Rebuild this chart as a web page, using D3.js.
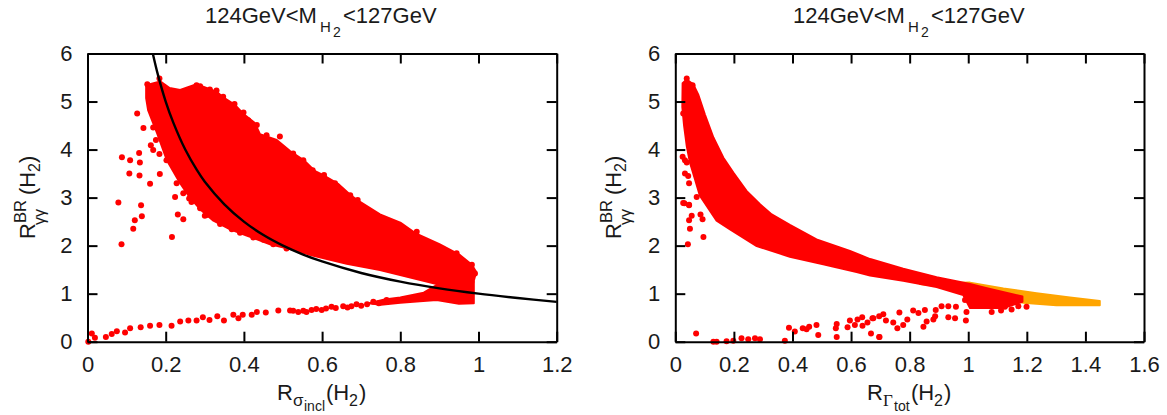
<!DOCTYPE html>
<html>
<head>
<meta charset="utf-8">
<script src="https://cdn.jsdelivr.net/npm/d3@7"></script>
<style>
body { margin: 0; background: #fff; }
text { font-family: "Liberation Sans", sans-serif; fill: #1a1a1a; }
.axis path, .axis line { stroke: #000; stroke-width: 2; }
.axis text { font-size: 22px; }
</style>
</head>
<body>
<script>
const yTicks = [0, 1, 2, 3, 4, 5, 6];
const xTicksLeft = [0, 0.2, 0.4, 0.6, 0.8, 1, 1.2];
const xTicksRight = [0, 0.2, 0.4, 0.6, 0.8, 1, 1.2, 1.4, 1.6];

// left panel, dense region outline
const leftBlob = [[0.15,5.34],[0.186,5.42],[0.21,5.28],[0.237,5.24],[0.279,5.36],[0.331,5.2],[0.35,5.07],[0.377,4.93],[0.399,4.74],[0.428,4.55],[0.441,4.32],[0.484,4.2],[0.518,3.97],[0.556,3.76],[0.582,3.55],[0.607,3.45],[0.642,3.28],[0.676,3.03],[0.693,2.93],[0.748,2.65],[0.8,2.48],[0.838,2.26],[0.9,2.03],[0.953,1.8],[0.983,1.6],[0.994,1.45],[0.985,1.18],[0.893,1.2],[0.748,1.49],[0.663,1.62],[0.578,1.79],[0.518,1.93],[0.467,2.03],[0.407,2.21],[0.365,2.34],[0.322,2.52],[0.288,2.76],[0.262,3.0],[0.237,3.3],[0.203,3.78],[0.178,4.34],[0.155,4.82],[0.15,5.07]];
const leftTail = [[0.72,0.8],[0.76,0.88],[0.8,0.92],[0.86,1.02],[0.893,1.18],[0.988,1.25],[0.988,0.8],[0.95,0.79],[0.893,0.87],[0.85,0.84],[0.8,0.81],[0.75,0.77]];
const leftDots = [[0.002,0],[0.011,0.17],[0.019,0.08],[0.047,0.1],[0.062,0.16],[0.075,0.22],[0.096,0.19],[0.109,0.28],[0.136,0.3],[0.16,0.33],[0.184,0.35],[0.215,0.33],[0.237,0.42],[0.258,0.44],[0.279,0.44],[0.295,0.51],[0.312,0.45],[0.332,0.53],[0.349,0.44],[0.373,0.56],[0.386,0.49],[0.397,0.56],[0.42,0.56],[0.433,0.62],[0.456,0.61],[0.488,0.65],[0.518,0.65],[0.539,0.62],[0.526,0.645],[0.552,0.645],[0.573,0.66],[0.599,0.66],[0.624,0.73],[0.654,0.74],[0.688,0.78],[0.731,0.83],[0.765,0.87],
  [0.56,0.62],[0.585,0.68],[0.61,0.69],[0.635,0.7],[0.665,0.71],[0.675,0.74],[0.7,0.75],[0.715,0.78],[0.745,0.8],
  [0.127,4.75],[0.143,4.45],[0.168,4.46],[0.175,4.2],[0.162,4.09],[0.168,3.99],[0.184,3.91],[0.132,3.93],[0.088,3.84],[0.109,3.78],[0.134,3.73],[0.107,3.5],[0.133,3.46],[0.185,3.49],[0.16,3.29],[0.224,3.01],[0.079,2.9],[0.137,2.84],[0.121,2.53],[0.139,2.61],[0.117,2.35],[0.087,2.03],[0.231,2.65],[0.245,2.55],[0.216,2.18],
  [0.153,5.36],[0.184,5.48],[0.279,5.34],[0.33,5.23],[0.376,4.95],[0.399,4.77],[0.576,3.57],[0.605,3.47],[0.633,3.3],[0.672,3.05],[0.691,2.95],[0.369,2.34],[0.475,2.03],[0.26,2.98],[0.3,2.62],
  [0.288,2.78],[0.305,2.64],[0.339,2.45],[0.39,2.27],[0.424,2.17],[0.45,2.12],[0.509,1.94],[0.228,3.3],[0.245,3.09],[0.266,2.91],[0.202,3.78],
  [0.288,5.32],[0.313,5.25],[0.347,5.1],[0.433,4.51],[0.411,4.61],[0.458,4.3],[0.492,4.27],[0.526,3.92],[0.552,3.78],[0.842,2.29],[0.944,1.84],[0.983,1.6],[0.991,1.42]];
const curveX = [0.167,0.18,0.2,0.22,0.25,0.28,0.3,0.35,0.4,0.45,0.5,0.55,0.6,0.7,0.8,0.9,1,1.1,1.2];
const curveY = [6,5.56,5,4.55,4,3.57,3.33,2.86,2.5,2.22,2,1.82,1.67,1.43,1.25,1.11,1,0.91,0.83];

// right panel
const rightOrange = [[0.835,1.2],[1.006,1.23],[1.12,1.11],[1.233,1.01],[1.347,0.92],[1.449,0.85],[1.449,0.76],[1.301,0.76],[1.188,0.81],[1.0,1.08]];
const rightBlob = [[0.025,5.38],[0.039,5.46],[0.061,5.36],[0.078,5.15],[0.101,4.73],[0.13,4.25],[0.164,3.83],[0.198,3.52],[0.243,3.14],[0.289,2.86],[0.329,2.65],[0.391,2.43],[0.482,2.13],[0.596,1.89],[0.665,1.72],[0.778,1.52],[0.892,1.34],[1.006,1.2],[1.06,1.12],[1.185,0.94],[1.185,0.83],[1.12,0.7],[1.006,0.7],[0.983,0.97],[0.892,1.14],[0.778,1.27],[0.665,1.38],[0.619,1.45],[0.505,1.61],[0.391,1.77],[0.278,1.99],[0.187,2.34],[0.141,2.52],[0.096,2.93],[0.084,3.04],[0.067,3.39],[0.05,3.73],[0.039,4.08],[0.03,4.5],[0.024,4.89]];
const rightDots = [[1.199,0.73],[1.08,0.62],[1.112,0.65],[1.148,0.67],[1.171,0.74],[1.125,0.73],[0.989,0.87],[0.994,0.62],[0.992,0.44],[0.955,0.49],[0.932,0.51],[0.958,0.73],[0.932,0.74],[0.909,0.74],[0.889,0.66],[0.887,0.53],[0.881,0.46],[0.858,0.42],[0.847,0.31],[0.852,0.66],[0.83,0.6],[0.812,0.65],[0.792,0.46],[0.778,0.35],[0.758,0.28],[0.765,0.61],[0.744,0.4],[0.719,0.44],[0.71,0.57],[0.676,0.49],[0.697,0.1],[0.668,0.17],
  [0.071,0.17],[0.13,0],[0.141,0],[0.175,0.01],[0.198,0.02],[0.226,0.07],[0.249,0.05],[0.272,0.07],[0.289,0.05],[0.374,0.02],[0.388,0.29],[0.408,0.21],[0.435,0.28],[0.457,0.31],[0.448,0.26],[0.482,0.35],[0.488,0.14],[0.551,0.37],[0.548,0.28],[0.551,0.1],[0.588,0.3],[0.596,0.44],[0.613,0.35],[0.622,0.46],[0.638,0.51],[0.639,0.33],[0.656,0.4],[0.673,0.49],[0.696,0.53],[0.696,0.1],
  [0.027,2.89],[0.047,2.84],[0.073,3.01],[0.047,3.3],[0.033,3.5],[0.044,3.45],[0.039,3.73],[0.025,3.85],[0.033,3.78],[0.027,4.75],[0.031,2.88],[0.047,2.85],[0.047,2.53],[0.056,2.62],[0.05,2.35],[0.043,2.03],[0.086,2.65],[0.093,2.55],[0.096,2.18],[0.039,5.48],[0.059,5.34]];

const svg = d3.select("body").append("svg")
  .attr("width", 1167)
  .attr("height", 415);

const plotTop = 53.5, plotBottom = 341.7;

function panel(left, right, xMax, xTicks) {
  const x = d3.scaleLinear().domain([0, xMax]).range([left, right]);
  const y = d3.scaleLinear().domain([0, 6]).range([plotBottom, plotTop]);
  const g = svg.append("g");
  const outline = d3.line().x(d => x(d[0])).y(d => y(d[1])).curve(d3.curveLinearClosed);

  // marks are added by the caller, axes go on top after
  const marks = g.append("g");
  const poly = (pts, col) => marks.append("path")
    .attr("d", outline(pts))
    .attr("fill", col)
    .attr("stroke", col)
    .attr("stroke-width", 2)
    .attr("stroke-linejoin", "round");
  const dots = (pts, col) => marks.selectAll(null)
    .data(pts)
    .enter()
    .append("circle")
    .attr("cx", d => x(d[0]))
    .attr("cy", d => y(d[1]))
    .attr("r", 3)
    .attr("fill", col);

  const fmt = d => String(d);
  g.append("g").attr("class", "axis")
    .attr("transform", `translate(0,${plotBottom})`)
    .call(d3.axisBottom(x).tickValues(xTicks).tickFormat(fmt).tickSizeInner(-10).tickSizeOuter(0).tickPadding(15));
  g.append("g").attr("class", "axis")
    .attr("transform", `translate(0,${plotTop})`)
    .call(d3.axisTop(x).tickValues(xTicks).tickFormat("").tickSizeInner(-10).tickSizeOuter(0));
  g.append("g").attr("class", "axis")
    .attr("transform", `translate(${left},0)`)
    .call(d3.axisLeft(y).tickValues(yTicks).tickFormat(fmt).tickSizeInner(-10).tickSizeOuter(0).tickPadding(15));
  g.append("g").attr("class", "axis")
    .attr("transform", `translate(${right},0)`)
    .call(d3.axisRight(y).tickValues(yTicks).tickFormat("").tickSizeInner(-10).tickSizeOuter(0));

  return { x, y, marks, poly, dots };
}

// text pieces placed one by one, sub and superscripts don't line up otherwise
function piece(parent, x, y, size, str, family) {
  const t = parent.append("text").attr("x", x).attr("y", y).attr("font-size", size).text(str);
  if (family) t.style("font-family", family);
  return t;
}

function title(x0) {
  piece(svg, x0, 23, 22, "124GeV<M");
  piece(svg, x0 + 115, 32, 15, "H");
  piece(svg, x0 + 128, 37, 14, "2");
  piece(svg, x0 + 138, 23, 22, "<127GeV");
}

function yLabel(px) {
  const g = svg.append("g").attr("transform", `translate(${px},239) rotate(-90)`);
  piece(g, 0, 0, 22, "R");
  piece(g, 16, -9, 16.5, "BR");
  piece(g, 14, 10, 16, "γγ");
  piece(g, 44, 0, 22, "(H");
  piece(g, 67, 5, 16, "2");
  piece(g, 76, 0, 22, ")");
}

function xLabel(x0, sub, subFamily, subsub, dsub, dpar) {
  piece(svg, x0, 400, 22, "R");
  piece(svg, x0 + 16, 406, 17, sub, subFamily);
  piece(svg, x0 + dsub, 411, 14, subsub);
  piece(svg, x0 + dpar, 400, 22, "(H");
  piece(svg, x0 + dpar + 23, 406, 16, "2");
  piece(svg, x0 + dpar + 33, 400, 22, ")");
}

// left panel
const pl = panel(87.5, 556.7, 1.2, xTicksLeft);
pl.poly(leftBlob, "#ff0000");
pl.poly(leftTail, "#ff0000");
pl.dots(leftDots, "#ff0000");
pl.marks.append("path")
  .attr("d", d3.line().x(d => pl.x(d)).y((d, i) => pl.y(curveY[i])).curve(d3.curveCatmullRom)(curveX))
  .attr("fill", "none")
  .attr("stroke", "#000")
  .attr("stroke-width", 2.4);

// right panel
const pr = panel(675.3, 1144, 1.6, xTicksRight);
pr.poly(rightOrange, "#ffa500");
pr.poly(rightBlob, "#ff0000");
pr.dots(rightDots, "#ff0000");

title(205);
title(793);
yLabel(35);
yLabel(621);
xLabel(277, "σ", null, "incl", 27, 49);
xLabel(867, "Γ", "Liberation Serif", "tot", 27, 44);
</script>
</body>
</html>
